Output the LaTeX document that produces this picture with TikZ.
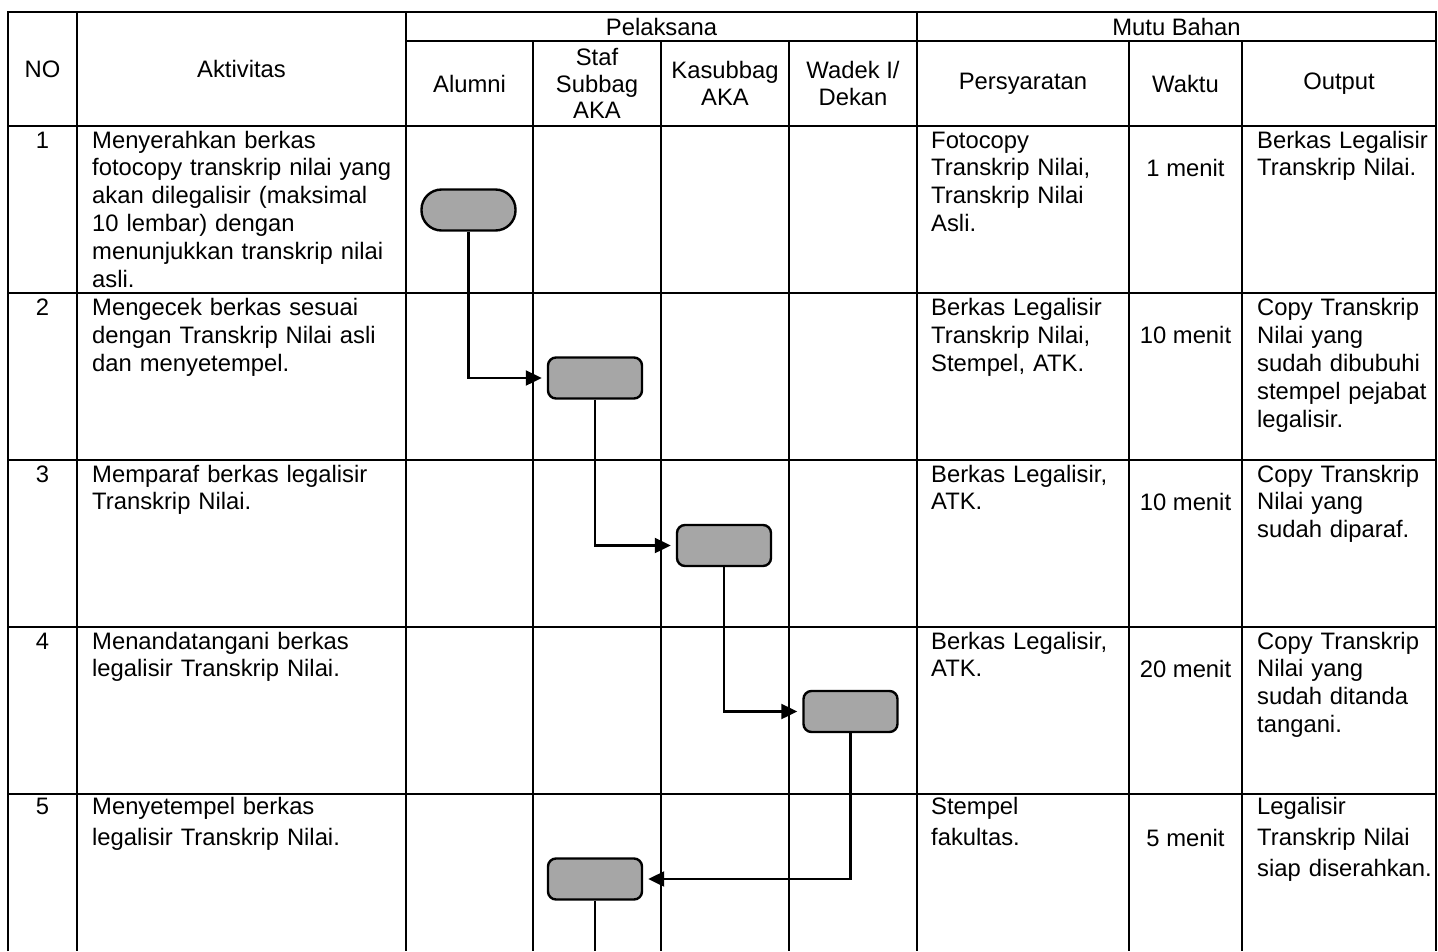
\documentclass[tikz,border=0pt]{standalone}
\usepackage{fontspec}
\setmainfont{Liberation Sans}
\usetikzlibrary{arrows.meta}
\definecolor{boxgray}{RGB}{166,166,166}
\begin{document}
\begin{tikzpicture}[x=1pt,y=-1pt,
  rule/.style={line width=2.4pt, black},
  head/.style={anchor=center, inner sep=0pt, align=center, font=\fontsize{23.8}{26.5}\selectfont},
  cell/.style={anchor=base west, inner sep=0pt, text width=330pt, align=left, font=\fontsize{23.8}{27.9}\selectfont},
  cellv/.style={cell, font=\fontsize{23.8}{31}\selectfont},
  num/.style={anchor=base, inner sep=0pt, font=\fontsize{23.8}{27.9}\selectfont},
  stepbox/.style={draw=black, line width=2.4pt, fill=boxgray, rounded corners=8pt, minimum width=94pt, minimum height=41pt, inner sep=0pt},
  termbox/.style={stepbox, rounded corners=20pt},
  flow/.style={line width=2.2pt, black},
  conn/.style={flow, shorten >=5pt, -{Triangle[length=16pt,width=15pt]}}
]
\useasboundingbox (0,0) rectangle (1438,951);
% table rules
\draw[rule] (8,951) -- (8,12) -- (1436,12) -- (1436,951);
\foreach \x in {77,406,917} \draw[rule] (\x,12) -- (\x,951);
\foreach \x in {533,661,789,1129,1242} \draw[rule] (\x,41) -- (\x,951);
\draw[rule] (406,41) -- (1436,41);
\foreach \y in {126,293,460,627,794} \draw[rule] (8,\y) -- (1436,\y);
% headers
\node[head] (hno) at (42.5,69) {NO};
\node[head] (hakt) at (241.5,69) {Aktivitas};
\node[head] (hpel) at (661.5,26.5) {Pelaksana};
\node[head] (hmutu) at (1176.5,26.5) {Mutu Bahan};
\node[head] (halu) at (469.5,83.5) {Alumni};
\node[head] (hstaf) at (597,83.5) {Staf\\Subbag\\AKA};
\node[head] (hkas) at (725,83.5) {Kasubbag\\AKA};
\node[head] (hwad) at (853,83.5) {Wadek I/\\Dekan};
\node[head] (hper) at (1023,83.5) {Persyaratan};
\node[head] (hwak) at (1185.5,83.5) {Waktu};
\node[head] (hout) at (1339,83.5) {Output};
% row 1
\node[num] (n1) at (42.5,148) {1};
\node[cell] (a1) at (92,148) {Menyerahkan berkas\\fotocopy transkrip nilai yang\\akan dilegalisir (maksimal\\10 lembar) dengan\\menunjukkan transkrip nilai\\asli.};
\node[cell] (p1) at (931,148) {Fotocopy\\Transkrip Nilai,\\Transkrip Nilai\\Asli.};
\node[num] (w1) at (1185.5,176.4) {1 menit};
\node[cell] (o1) at (1257,148) {Berkas Legalisir\\Transkrip Nilai.};
% row 2
\node[num] (n2) at (42.5,315.5) {2};
\node[cell] (a2) at (92,315.5) {Mengecek berkas sesuai\\dengan Transkrip Nilai asli\\dan menyetempel.};
\node[cell] (p2) at (931,315.5) {Berkas Legalisir\\Transkrip Nilai,\\Stempel, ATK.};
\node[num] (w2) at (1185.5,343.5) {10 menit};
\node[cell] (o2) at (1257,315.5) {Copy Transkrip\\Nilai yang\\sudah dibubuhi\\stempel pejabat\\legalisir.};
% row 3
\node[num] (n3) at (42.5,482) {3};
\node[cell] (a3) at (92,482) {Memparaf berkas legalisir\\Transkrip Nilai.};
\node[cell] (p3) at (931,482) {Berkas Legalisir,\\ATK.};
\node[num] (w3) at (1185.5,510.5) {10 menit};
\node[cell] (o3) at (1257,482) {Copy Transkrip\\Nilai yang\\sudah diparaf.};
% row 4
\node[num] (n4) at (42.5,649) {4};
\node[cell] (a4) at (92,649) {Menandatangani berkas\\legalisir Transkrip Nilai.};
\node[cell] (p4) at (931,649) {Berkas Legalisir,\\ATK.};
\node[num] (w4) at (1185.5,677.5) {20 menit};
\node[cell] (o4) at (1257,649) {Copy Transkrip\\Nilai yang\\sudah ditanda\\tangani.};
% row 5
\node[num] (n5) at (42.5,814) {5};
\node[cellv] (a5) at (92,814) {Menyetempel berkas\\legalisir Transkrip Nilai.};
\node[cellv] (p5) at (931,814) {Stempel\\fakultas.};
\node[num] (w5) at (1185.5,846) {5 menit};
\node[cellv] (o5) at (1257,814) {Legalisir\\Transkrip Nilai\\siap diserahkan.};
% flow shapes
\node[termbox] (t1) at (468.5,210) {};
\node[stepbox] (b2) at (595,378) {};
\node[stepbox] (b3) at (724,545.5) {};
\node[stepbox] (b4) at (850.5,711.5) {};
\node[stepbox] (b5) at (595,879) {};
\coordinate (tail) at (595,951);
% connectors
\draw[conn] (t1.south) |- (b2.west);
\draw[conn] (b2.south) |- (b3.west);
\draw[conn] (b3.south) |- (b4.west);
\draw[conn] (b4.south) |- (b5.east);
\draw[flow] (b5.south) -- (tail);
\end{tikzpicture}
\end{document}
